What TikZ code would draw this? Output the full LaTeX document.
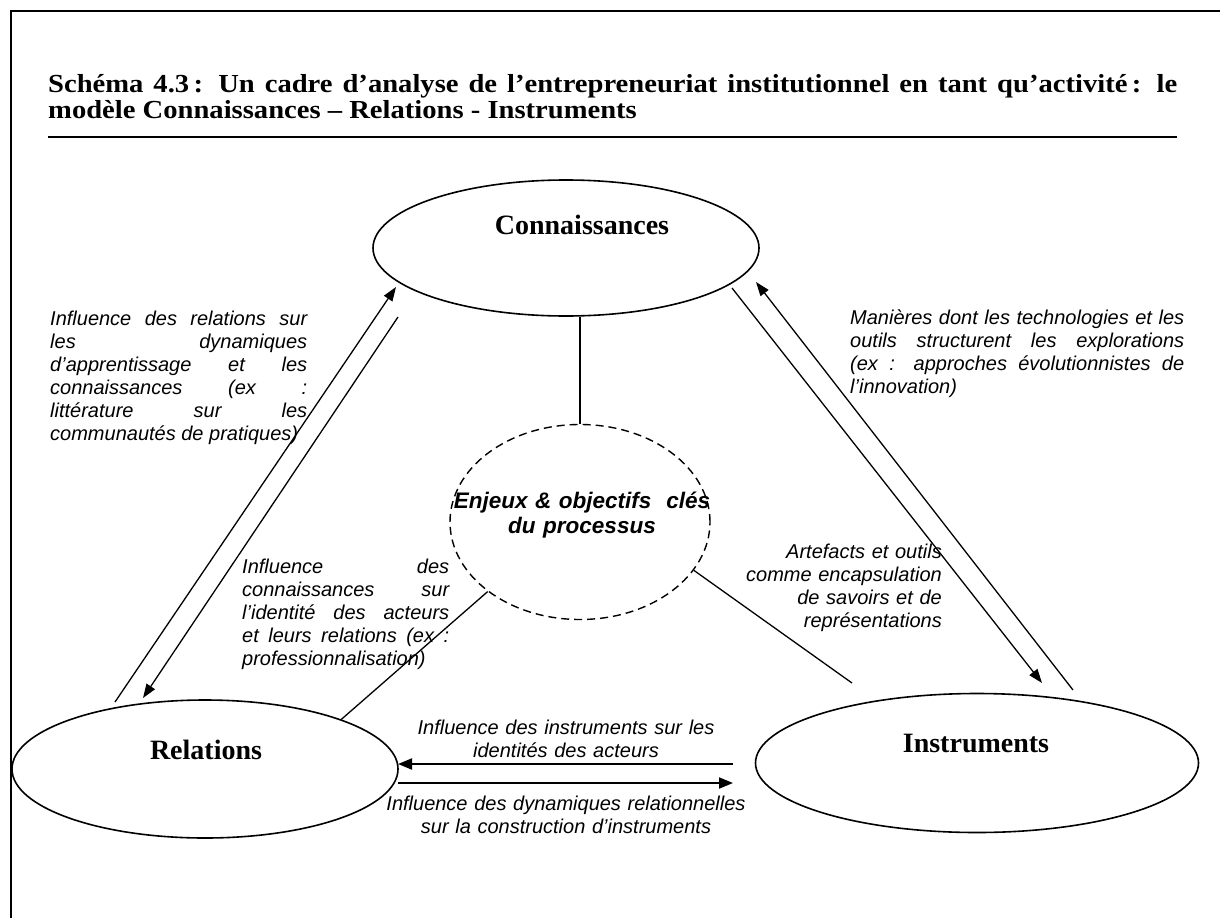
\documentclass[tikz,border=0pt]{standalone}
\usepackage{fontspec}
\setmainfont{Liberation Serif}
\setsansfont{Liberation Sans}
\newfontfamily\titlefont{Liberation Serif}[FakeStretch=1.1]
\usetikzlibrary{arrows.meta,shapes.geometric}
\hyphenpenalty=10000
\exhyphenpenalty=10000

\tikzset{
  oval/.style={draw, ellipse, line width=1.6pt, inner sep=0pt},
  ovalname/.style={font=\bfseries\fontsize{28}{30}\selectfont, inner sep=0pt},
  titletext/.style={font=\titlefont\bfseries\fontsize{26}{26}\selectfont,
    text width=1129pt, align=justify, inner sep=0pt},
  note/.style={font=\sffamily\itshape\fontsize{20}{23}\selectfont, inner sep=0pt},
  link/.style={line width=1.3pt},
  arr/.style={line width=1.3pt, -{Triangle[length=14pt,width=10pt]}},
  fatarr/.style={line width=2pt, -{Triangle[length=14pt,width=11pt]}}
}

\begin{document}
\begin{tikzpicture}[x=1pt,y=-1pt]
  \useasboundingbox (0,0) rectangle (1220,918);

  % Frame
  \draw[line width=2pt] (11,918) -- (11,11) -- (1220,11);

  % Title
  \node[titletext, anchor=base west] (title) at (48,92)
    {Schéma 4.3\,: Un cadre d’analyse de l’entrepreneuriat institutionnel en tant qu’activité\,: le\linebreak
     modèle Connaissances – Relations - Instruments};
  \draw[line width=1.6pt] (48,137) -- (1177,137);

  % Connaissances
  \node[oval, minimum width=386pt, minimum height=136pt] (conn) at (566,248) {};
  \node[ovalname] (connname) at (582,225) {Connaissances};

  % Relations
  \node[oval, minimum width=386pt, minimum height=138pt] (rel) at (205,769) {};
  \node[ovalname] (relname) at (206,750) {Relations};

  % Instruments
  \node[oval, minimum width=443pt, minimum height=139pt] (inst) at (977,763) {};
  \node[ovalname] (instname) at (976,743) {Instruments};

  % Enjeux
  \node[oval, line width=1.4pt, dash pattern=on 8pt off 5pt,
        minimum width=260pt, minimum height=195pt] (enjeux) at (580,522) {};
  \node[font=\sffamily\bfseries\itshape\fontsize{22.5}{25}\selectfont, align=center,
        text width=280pt, inner sep=0pt] (enjeuxname) at (582,515)
    {Enjeux \& objectifs\ \ clés\\du processus};

  % Links to the centre
  \draw[link] (enjeux.north) -- (enjeux.north |- conn.south);
  \draw[link] (enjeux.217) -- (rel.20);
  \coordinate (ei) at (852,683);
  \draw[link] (enjeux.337) -- (ei);

  % Relations <-> Connaissances
  \coordinate (rc-a) at (115,702);
  \coordinate (rc-b) at (396,287);
  \coordinate (cr-a) at (398,317);
  \coordinate (cr-b) at (143,698);
  \draw[arr] (rc-a) -- (rc-b);
  \draw[arr] (cr-a) -- (cr-b);

  % Instruments <-> Connaissances
  \coordinate (ic-a) at (1073,690);
  \coordinate (ic-b) at (756,282);
  \coordinate (ci-a) at (732,288);
  \coordinate (ci-b) at (1042,683);
  \draw[arr] (ic-a) -- (ic-b);
  \draw[arr] (ci-a) -- (ci-b);

  % Instruments <-> Relations
  \coordinate (ir-a) at (733,764);
  \coordinate (ir-b) at (398,764);
  \coordinate (ri-a) at (398,783);
  \coordinate (ri-b) at (733,783);
  \draw[fatarr] (ir-a) -- (ir-b);
  \draw[fatarr] (ri-a) -- (ri-b);

  % Labels
  \node[note, text width=257pt, align=justify, anchor=base west] (relconn) at (50,325)
    {Influence des relations sur\linebreak les dynamiques\linebreak d’apprentissage et les\linebreak
     connaissances (ex~:\linebreak littérature sur les\linebreak communautés de pratiques)};
  \node[note, text width=334pt, align=justify, anchor=base west] (instconn) at (850,324)
    {Manières dont les technologies et les\linebreak outils structurent les explorations\linebreak
     (ex~: approches évolutionnistes de\linebreak l’innovation)};
  \node[note, text width=207pt, align=justify, anchor=base west] (connrel) at (242,573)
    {Influence des\linebreak connaissances sur\linebreak l’identité des acteurs\linebreak
     et leurs relations (ex~:\linebreak professionnalisation)};
  \node[note, text width=220pt, align=right, anchor=base east] (artefacts) at (942,558)
    {Artefacts et outils\\ comme encapsulation\\ de savoirs et de\\ représentations};
  \node[note, text width=400pt, align=center, anchor=base] (instrel) at (566,734)
    {Influence des instruments sur les\\ identités des acteurs};
  \node[note, text width=400pt, align=center, anchor=base] (relinst) at (566,810)
    {Influence des dynamiques relationnelles\\ sur la construction d’instruments};

\end{tikzpicture}
\end{document}
